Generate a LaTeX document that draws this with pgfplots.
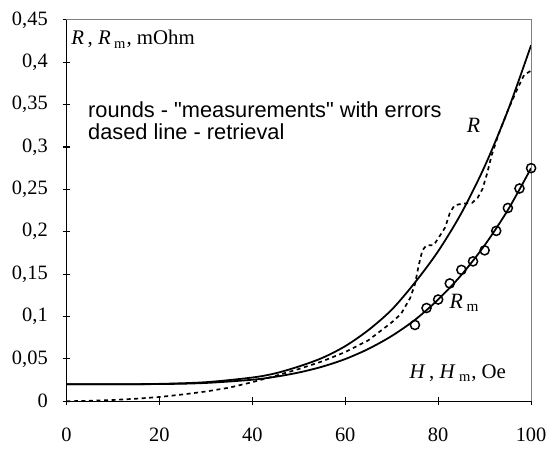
\documentclass[border=0pt]{standalone}
\usepackage{fontspec}
\setmainfont{Liberation Serif}
\newfontfamily\arial{Liberation Sans}
\usepackage{pgfplots}
\pgfplotsset{compat=1.18}

\begin{document}
\begin{tikzpicture}
\begin{axis}[
    scale only axis,
    width=234.5pt, height=192.5pt,
    xmin=0, xmax=100, ymin=0, ymax=0.45,
    axis x line=bottom, axis y line=left,
    axis line style={-, line width=0.6pt},
    xtick={0,20,40,60,80,100},
    ytick={0,0.05,0.1,0.15,0.2,0.25,0.3,0.35,0.4,0.45},
    tick align=center,
    major tick length=3.8pt,
    tick style={black, line width=0.6pt},
    scaled ticks=false,
    /pgf/number format/assume math mode=true,
    /pgf/number format/fixed,
    /pgf/number format/precision=2,
    /pgf/number format/use comma,
    ticklabel style={font=\fontsize{10.3}{12}\selectfont},
    yticklabel style={xshift=-4pt},
    xticklabel style={yshift=-8pt},
    clip=false,
]
% R
\addplot[black, line width=0.9pt, smooth] coordinates {
    (0,0.02) (10,0.02) (20,0.0205) (30,0.0225) (40,0.028) (45,0.033)
    (50,0.041) (55,0.051) (60,0.065) (65,0.084) (70,0.108) (75,0.140)
    (80,0.177) (85,0.222) (90,0.277) (95,0.343) (100,0.42)
};
% R_m
\addplot[black, line width=0.9pt, smooth] coordinates {
    (0,0.02) (20,0.0203) (30,0.0216) (40,0.0254) (45,0.0289) (50,0.0339)
    (55,0.0407) (60,0.0498) (65,0.0618) (70,0.077) (75,0.096) (80,0.120)
    (85,0.149) (90,0.184) (95,0.2256) (100,0.275)
};
% retrieval
\addplot[black, line width=0.85pt, dash pattern=on 2pt off 1.8pt] coordinates {
    (0,0) (5,0.0005) (10,0.0015) (15,0.003) (20,0.005) (25,0.008)
    (30,0.0115) (35,0.016) (40,0.0225) (45,0.030) (50,0.038) (55,0.047)
    (60,0.058) (65,0.072) (70,0.093) (72,0.103) (74,0.122) (75,0.138)
    (75.8,0.16) (76.6,0.178) (77.5,0.184) (79,0.184) (80,0.192)
    (81.5,0.205) (82.5,0.222) (83.5,0.231) (85,0.233) (87.3,0.234)
    (88.5,0.240) (89.5,0.250) (90.5,0.268) (91.5,0.29) (93,0.315)
    (95,0.343) (97,0.368) (98.5,0.385) (100,0.39)
};
% measurements
\addplot[only marks, mark=o, mark size=2.3pt, mark options={fill=white, line width=0.75pt}] coordinates {
    (75,0.09) (77.5,0.11) (80,0.12) (82.5,0.139) (85,0.155) (87.5,0.165)
    (90,0.178) (92.5,0.201) (95,0.228) (97.5,0.251) (100,0.275)
};
\draw[gray, line width=0.6pt] (rel axis cs:0,1) -- (rel axis cs:1,1) -- (rel axis cs:1,0);
\node[anchor=west, inner sep=0] at (axis cs:1,0.427)
    {\fontsize{10.5}{12}\selectfont\textit{R}\,, \textit{R}\,\textsubscript{m}, mOhm};
\node[anchor=west, inner sep=0] at (axis cs:4.6,0.344)
    {\fontsize{11}{13}\selectfont\arial rounds - "measurements" with errors};
\node[anchor=west, inner sep=0] at (axis cs:4.6,0.318)
    {\fontsize{11}{13}\selectfont\arial dased line - retrieval};
\node[inner sep=0] at (axis cs:87.6,0.326) {\fontsize{11}{13}\selectfont\textit{R}};
\node[anchor=west, inner sep=0] at (axis cs:82.4,0.116)
    {\fontsize{11}{13}\selectfont\textit{R}\,\textsubscript{m}};
\node[anchor=west, inner sep=0] at (axis cs:73.8,0.0335)
    {\fontsize{10.5}{12}\selectfont\textit{H}\,, \textit{H}\,\textsubscript{m}, Oe};
\path (rel axis cs:-0.1429,-0.109) rectangle (rel axis cs:1.0362,1.0519);
\end{axis}
\end{tikzpicture}
\end{document}
